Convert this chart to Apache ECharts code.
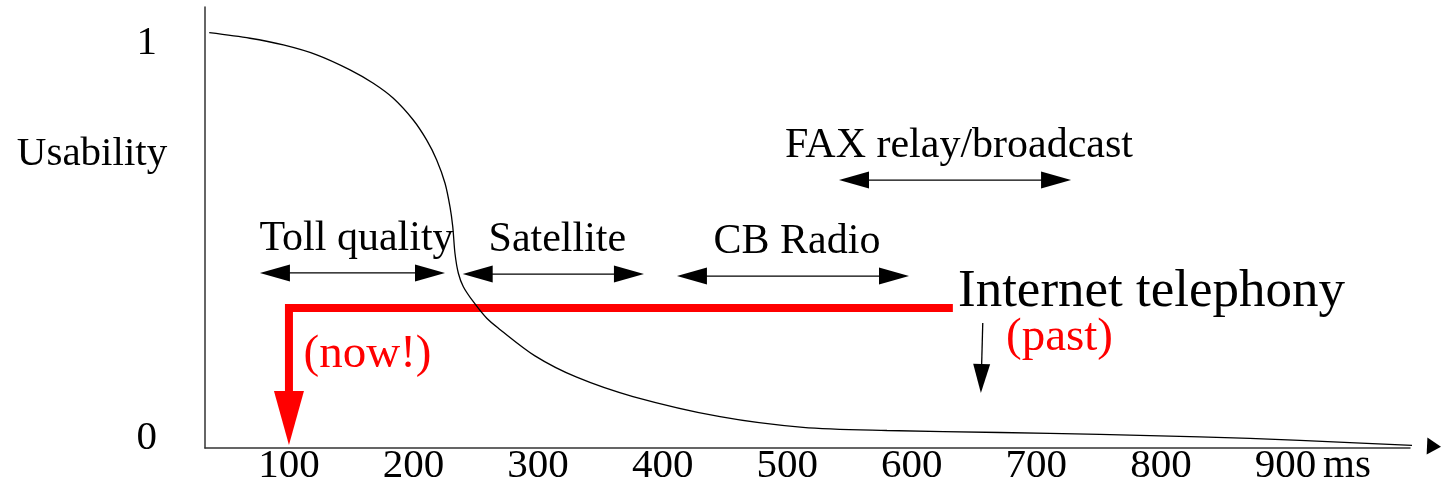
<!DOCTYPE html>
<html>
<head>
<meta charset="utf-8">
<script src="https://cdn.jsdelivr.net/npm/echarts@6/dist/echarts.min.js"></script>
<style>
html,body{margin:0;padding:0;background:#fff;}
#chart{width:1441px;height:486px;}
</style>
</head>
<body>
<div id="chart"></div>
<script>
// ---- data ----
const xTicks = [100, 200, 300, 400, 500, 600, 700, 800, 900];
const yTicks = [0, 1];
// usability curve (delay in ms -> usability)
const delayMs   = [36.0, 68.7, 95.5, 122.3, 149.0, 167.7, 183.8, 199.8, 210.6, 218.6, 225.3, 229.3, 231.5, 233.3, 236.0, 240.0, 248.0, 258.8, 268.1, 297.5, 331.0, 376.2, 446.1, 512.7, 580.1, 670.8, 751.0, 831.3, 911.6, 1024.9];
const usability = [1.026, 1.012, 0.995, 0.970, 0.932, 0.898, 0.860, 0.805, 0.754, 0.704, 0.645, 0.585, 0.535, 0.467, 0.417, 0.383, 0.345, 0.303, 0.278, 0.208, 0.154, 0.105, 0.054, 0.027, 0.019, 0.014, 0.009, 0.003, -0.006, -0.022];
// application delay ranges
const rangeNames = ['Toll quality', 'Satellite', 'CB Radio', 'FAX relay/broadcast'];
const rangeFrom  = [76.7, 239.5, 411.5, 541.6];
const rangeTo    = [225.3, 385.0, 597.8, 727.9];
const rangeLevel = [0.418, 0.415, 0.410, 0.653];
// internet telephony: past extent and now
const internetLevel = 0.329;
const pastDelayEnd = 633;
const nowDelay = 100;
const nowArrowTip = -0.018;
const pastArrowFrom = [657.0, 0.291];
const pastArrowTo = [655.5, 0.114];

const SERIF = '"Liberation Serif", "DejaVu Serif", serif';

function head(from, to, len, wid) {
  const dx = to[0] - from[0], dy = to[1] - from[1];
  const d = Math.sqrt(dx * dx + dy * dy) || 1;
  const ux = dx / d, uy = dy / d;
  const bx = to[0] - ux * len, by = to[1] - uy * len;
  const px = -uy * wid / 2, py = ux * wid / 2;
  return { points: [[to[0], to[1]], [bx + px, by + py], [bx - px, by - py]], base: [bx + ux, by + uy] };
}

const chart = echarts.init(document.getElementById('chart'), null, { renderer: 'canvas' });

const option = {
  animation: false,
  backgroundColor: '#fff',
  grid: { left: 205, right: 31, top: 7, bottom: 38, containLabel: false, outerBoundsMode: 'none' },
  xAxis: {
    type: 'value', min: 32.6, max: 1000,
    axisLine: { show: true, onZero: false, lineStyle: { color: '#333', width: 1.5 } },
    axisTick: { show: false },
    splitLine: { show: false },
    axisLabel: {
      customValues: xTicks, margin: -2,
      color: '#000', fontSize: 41, fontFamily: SERIF,
      formatter: v => String(v)
    }
  },
  yAxis: {
    type: 'value', min: -0.0253, max: 1.0911,
    axisLine: { show: true, onZero: false, lineStyle: { color: '#333', width: 1.5 } },
    axisTick: { show: false },
    splitLine: { show: false },
    axisLabel: {
      customValues: yTicks, margin: 48,
      color: '#000', fontSize: 41, fontFamily: SERIF,
      formatter: v => String(v)
    }
  },
  graphic: [
    { type: 'text', x: 92, y: 154, style: { text: 'Usability', fill: '#000', fontSize: 41, fontFamily: SERIF, align: 'center', verticalAlign: 'middle' } },
    { type: 'text', x: 958, y: 292.5, style: { text: 'Internet telephony', fill: '#000', fontSize: 53, fontFamily: SERIF, align: 'left', verticalAlign: 'middle' } },
    { type: 'text', x: 1059.5, y: 338, style: { text: '(past)', fill: '#ff0000', fontSize: 47, fontFamily: SERIF, align: 'center', verticalAlign: 'middle' } },
    { type: 'text', x: 367.5, y: 355, style: { text: '(now!)', fill: '#ff0000', fontSize: 47, fontFamily: SERIF, align: 'center', verticalAlign: 'middle' } },
    { type: 'text', x: 1323, y: 466, style: { text: 'ms', fill: '#000', fontSize: 41, fontFamily: SERIF, align: 'left', verticalAlign: 'middle' } }
  ],
  series: [
    {
      name: 'internet', type: 'custom', clip: false, z: 2,
      data: [[nowDelay, internetLevel, pastDelayEnd, nowArrowTip]],
      encode: { x: [0, 2], y: [1, 3] },
      renderItem: function (params, api) {
        const c = api.coord([api.value(0), api.value(1)]);
        const r = api.coord([api.value(2), api.value(1)]);
        const t = api.coord([api.value(0), api.value(3)]);
        const h = head(c, t, 54, 30);
        return { type: 'group', children: [
          { type: 'polyline', shape: { points: [r, c, h.base] }, style: { stroke: '#ff0000', lineWidth: 8, fill: null, lineJoin: 'miter', lineCap: 'butt' } },
          { type: 'polygon', shape: { points: h.points }, style: { fill: '#ff0000' } }
        ] };
      }
    },
    {
      name: 'ranges', type: 'custom', clip: false, z: 3,
      data: rangeFrom.map((f, i) => [f, rangeTo[i], rangeLevel[i]]),
      encode: { x: [0, 1], y: 2 },
      renderItem: function (params, api) {
        const y = api.value(2);
        const a = api.coord([api.value(0), y]);
        const b = api.coord([api.value(1), y]);
        const ha = head(b, a, 30, 17), hb = head(a, b, 30, 17);
        return { type: 'group', children: [
          { type: 'line', shape: { x1: ha.base[0], y1: a[1], x2: hb.base[0], y2: b[1] }, style: { stroke: '#000', lineWidth: 1.3 } },
          { type: 'polygon', shape: { points: ha.points }, style: { fill: '#000' } },
          { type: 'polygon', shape: { points: hb.points }, style: { fill: '#000' } },
          { type: 'text', style: { text: rangeNames[params.dataIndex], x: (a[0] + b[0]) / 2 + 4, y: a[1] - 34, align: 'center', verticalAlign: 'middle', fill: '#000', fontSize: 42, fontFamily: SERIF } }
        ] };
      }
    },
    {
      name: 'past arrow', type: 'custom', clip: false, z: 3,
      data: [[pastArrowFrom[0], pastArrowFrom[1], pastArrowTo[0], pastArrowTo[1]]],
      encode: { x: [0, 2], y: [1, 3] },
      renderItem: function (params, api) {
        const f = api.coord([api.value(0), api.value(1)]);
        const t = api.coord([api.value(2), api.value(3)]);
        const h = head(f, t, 29, 17);
        return { type: 'group', children: [
          { type: 'line', shape: { x1: f[0], y1: f[1], x2: h.base[0], y2: h.base[1] }, style: { stroke: '#000', lineWidth: 1.3 } },
          { type: 'polygon', shape: { points: h.points }, style: { fill: '#000' } }
        ] };
      }
    },
    {
      name: 'usability', type: 'line', clip: false, z: 4,
      data: delayMs.map((x, i) => [x, usability[i]]),
      symbol: 'none', smooth: 0.3,
      lineStyle: { color: '#000', width: 1.3 }
    },
    {
      name: 'curve end', type: 'custom', clip: false, z: 5,
      data: [[delayMs[delayMs.length - 2], usability[usability.length - 2], delayMs[delayMs.length - 1], usability[usability.length - 1]]],
      encode: { x: [0, 2], y: [1, 3] },
      renderItem: function (params, api) {
        const f = api.coord([api.value(0), api.value(1)]);
        const t = api.coord([api.value(2), api.value(3)]);
        const h = head(f, t, 14, 17);
        return { type: 'polygon', shape: { points: h.points }, style: { fill: '#000' } };
      }
    }
  ]
};
chart.setOption(option);
</script>
</body>
</html>
